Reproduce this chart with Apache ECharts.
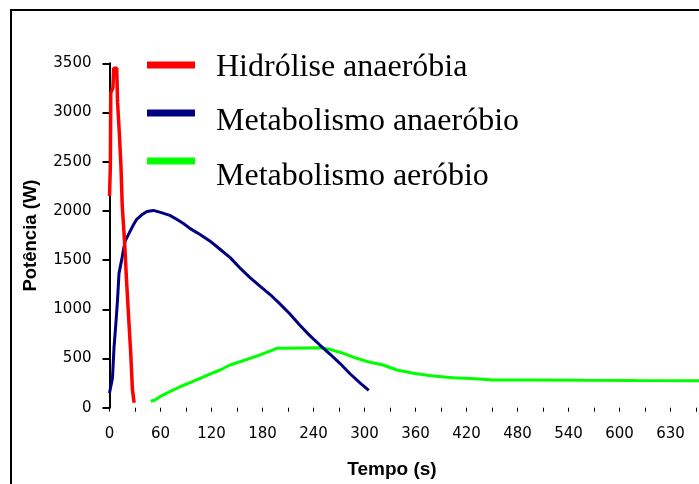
<!DOCTYPE html>
<html>
<head>
<meta charset="utf-8">
<script src="https://cdn.jsdelivr.net/npm/echarts@6/dist/echarts.min.js"></script>
<style>
  html, body { margin: 0; padding: 0; background: #fff; }
  #chart { width: 699px; height: 484px; }
</style>
</head>
<body>
<div id="chart"></div>
<script>
// Potência das três vias energéticas ao longo do tempo (s)
const seriesNames = ['Hidrólise anaeróbia', 'Metabolismo anaeróbio', 'Metabolismo aeróbio'];
const seriesColors = ['#ff0000', '#000080', '#00ff00'];

const hidroliseTempo = [0, 1, 1.5, 4, 5, 8.5, 9.5, 11.5, 13.5, 15, 18, 20, 22.5, 25, 27, 29];
const hidrolisePotencia = [2150, 2450, 3200, 3250, 3450, 3450, 3100, 2800, 2450, 2050, 1650, 1300, 920, 550, 180, 50];

const anaerobioTempo = [0, 3.5, 5.3, 7.6, 9.4, 11.2, 14.7, 18.2, 24, 28, 32, 38, 44, 51.5, 60, 71, 79, 87, 95,
  106.5, 118, 130, 142, 153.5, 165, 177, 189, 200.5, 212, 224, 236, 247.5, 259, 271, 283, 295, 305];
const anaerobioPotencia = [150, 300, 610, 870, 1090, 1365, 1520, 1690, 1790, 1857, 1915, 1960, 1993, 2005, 1985,
  1955, 1915, 1872, 1820, 1760, 1695, 1610, 1525, 1420, 1325, 1235, 1150, 1055, 955, 838, 730, 637, 548,
  451, 345, 250, 175];

const aerobioTempo = [48.5, 53.5, 59.4, 71, 83, 94.7, 106.5, 118, 130, 141.8, 153.5, 165.3, 177, 188.8, 196.7,
  208.5, 228, 247.6, 259, 275, 290.8, 306.5, 322, 338, 357.4, 381, 404.5, 430, 451.5, 495, 560, 620, 700];
const aerobioPotencia = [65, 78, 112, 163, 213, 254, 299, 342, 383, 434, 467, 502, 536, 576, 604, 604, 607, 610,
  593, 553, 502, 461, 434, 383, 350, 322, 305, 295, 282, 282, 278, 276, 275];

const xTickLabels = ['0', '60', '120', '180', '240', '300', '360', '420', '480', '540', '600', '630'];
const yTickLabels = ['0', '500', '1000', '1500', '2000', '2500', '3000', '3500'];

const pairs = (xs, ys) => xs.map((x, i) => [x, ys[i]]);
const seriesData = [
  pairs(hidroliseTempo, hidrolisePotencia),
  pairs(anaerobioTempo, anaerobioPotencia),
  pairs(aerobioTempo, aerobioPotencia)
];

// legend rows: swatch centre and label middle
const legendRows = [
  { swatchY: 65, textY: 67.4 },
  { swatchY: 113, textY: 121.4 },
  { swatchY: 161, textY: 176.4 }
];

const legendGraphics = [];
legendRows.forEach((row, i) => {
  legendGraphics.push({
    type: 'rect',
    shape: { x: 147, y: row.swatchY - 3.5, width: 48, height: 7 },
    style: { fill: seriesColors[i] },
    silent: true
  });
  legendGraphics.push({
    type: 'text',
    x: 216,
    y: row.textY,
    style: {
      text: seriesNames[i],
      fontFamily: 'Liberation Serif',
      fontSize: 32,
      fill: '#000',
      align: 'left',
      verticalAlign: 'middle'
    },
    silent: true
  });
});

const chart = echarts.init(document.getElementById('chart'), null, { renderer: 'canvas' });

chart.setOption({
  animation: false,
  backgroundColor: '#ffffff',
  grid: {
    left: 109.5, top: 63.3, right: -22.5, bottom: 76.3,
    containLabel: false,
    outerBoundsMode: 'none'
  },
  xAxis: {
    type: 'value',
    min: 0,
    max: 720,
    interval: 30,
    axisLine: { show: false },
    axisTick: { show: true, length: 4, lineStyle: { color: '#000', width: 1 } },
    splitLine: { show: false },
    axisLabel: {
      margin: 19,
      color: '#000',
      fontFamily: 'DejaVu Sans',
      fontSize: 15,
      formatter: v => (v % 60 === 0 && xTickLabels[v / 60] !== undefined) ? xTickLabels[v / 60] : ''
    }
  },
  yAxis: {
    type: 'value',
    min: 0,
    max: 3500,
    interval: 500,
    name: 'Potência (W)',
    nameLocation: 'middle',
    nameRotate: 90,
    nameGap: 69,
    nameTextStyle: { fontFamily: 'Liberation Sans', fontWeight: 'bold', fontSize: 18.5, color: '#000' },
    axisLine: { show: true, lineStyle: { color: '#000', width: 2 } },
    axisTick: { show: true, length: 7, lineStyle: { color: '#000', width: 2 } },
    splitLine: { show: false },
    axisLabel: {
      margin: 18,
      color: '#000',
      fontFamily: 'DejaVu Sans',
      fontSize: 15,
      formatter: v => yTickLabels[v / 500]
    }
  },
  graphic: [
    {
      type: 'rect',
      shape: { x: 11, y: 10, width: 1000, height: 1000 },
      style: { fill: null, stroke: '#000', lineWidth: 2 },
      silent: true
    },
    {
      type: 'text',
      x: 392,
      y: 470,
      style: {
        text: 'Tempo (s)',
        fontFamily: 'Liberation Sans',
        fontWeight: 'bold',
        fontSize: 19,
        fill: '#000',
        align: 'center',
        verticalAlign: 'middle'
      },
      silent: true
    }
  ].concat(legendGraphics),
  series: seriesNames.map((name, i) => ({
    name: name,
    type: 'line',
    data: seriesData[i],
    showSymbol: false,
    symbol: 'none',
    lineStyle: { color: seriesColors[i], width: i === 0 ? 3.5 : 3 },
    itemStyle: { color: seriesColors[i] },
    z: 3 - i
  }))
});
</script>
</body>
</html>
